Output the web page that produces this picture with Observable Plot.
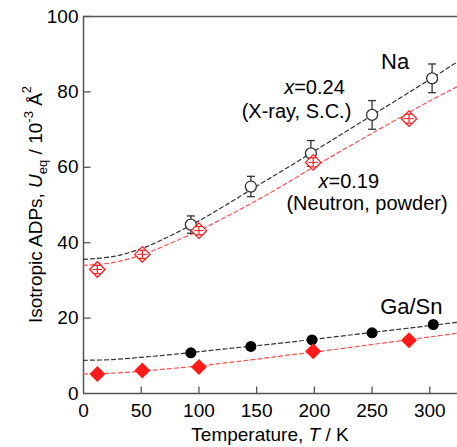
<!DOCTYPE html>
<html><head><meta charset="utf-8">
<script src="https://cdn.jsdelivr.net/npm/d3@7"></script>
<script src="https://cdn.jsdelivr.net/npm/@observablehq/plot@0.6"></script>
<style>
body{margin:0;background:#fff}
svg{font-family:"Liberation Sans",Arial,sans-serif}
</style>
</head><body><div id="chart"></div>
<script>
// Tick values
const xTicks = [0, 50, 100, 150, 200, 250, 300];
const yTicks = [0, 20, 40, 60, 80, 100];

// Na, x=0.24 (X-ray, single crystal) – open circles with error bars
const naXrayT = [93, 145, 197, 250, 302];
const naXrayU = [44.8, 54.9, 63.7, 73.9, 83.6];
const naXrayErr = [2.3, 2.7, 3.4, 3.8, 3.8];

// Na, x=0.19 (Neutron, powder) – open diamonds
const naNeutT = [12, 51, 100, 199, 282];
const naNeutU = [32.9, 36.9, 43.2, 61.3, 72.9];
const naNeutErr = [1.1, 1.1, 1.1, 1.2, 1.2];

// Ga/Sn, X-ray – filled circles
const gaXrayT = [93, 145, 198, 250, 303];
const gaXrayU = [10.8, 12.5, 14.2, 16.1, 18.3];

// Ga/Sn, Neutron – filled diamonds
const gaNeutT = [12, 51, 100, 199, 282];
const gaNeutU = [5.2, 6.1, 7.0, 11.2, 14.1];

// Fit curves
const fitT = [0, 25, 50, 75, 100, 125, 150, 175, 200, 250, 300, 324];
const naXrayFit = [35.6, 36.3, 38.4, 41.8, 45.8, 50.3, 55.0, 59.6, 64.3, 73.8, 83.3, 88.0];
const naNeutFit = [34.0, 34.7, 36.7, 39.8, 43.2, 47.1, 51.2, 55.6, 60.2, 69.0, 77.6, 81.4];
const gaXrayFit = [8.8, 9.0, 9.6, 10.3, 11.1, 11.9, 12.7, 13.5, 14.4, 16.2, 18.0, 18.9];
const gaNeutFit = [5.2, 5.4, 5.9, 6.6, 7.3, 8.2, 9.1, 10.1, 11.0, 13.0, 15.0, 16.0];

// Annotations
const annNa = {x: 270, y: 88.0, text: "Na"};
const annGa = {x: 284, y: 22.9, text: "Ga/Sn"};
const annX1 = {x: 182.5, y: 81.1, v: "=0.24"};
const annX1b = {x: 184.5, y: 74.9, text: "(X-ray, S.C.)"};
const annX2 = {x: 212.2, y: 56.2, v: "=0.19"};
const annX2b = {x: 245.6, y: 50.5, text: "(Neutron, powder)"};

const naX = naXrayT.map((t, i) => ({t, u: naXrayU[i], e: naXrayErr[i]}));
const naN = naNeutT.map((t, i) => ({t, u: naNeutU[i], e: naNeutErr[i]}));

const capSymbol = {draw(ctx, size) { const r = Math.sqrt(size / Math.PI); ctx.moveTo(-r, 0); ctx.lineTo(r, 0); }};
const tickUp = {draw(ctx, size) { const r = Math.sqrt(size / Math.PI); ctx.moveTo(0, 0); ctx.lineTo(0, -r); }};
const tickRight = {draw(ctx, size) { const r = Math.sqrt(size / Math.PI); ctx.moveTo(0, 0); ctx.lineTo(r, 0); }};

const axisCol = "#555";
const blk = "#333";
const red = "#ff1a1a";
const redLine = "#ff4d4d";
const dash = "4,3";

const chart = Plot.plot({
  width: 457, height: 447,
  marginLeft: 83, marginRight: 0, marginTop: 16, marginBottom: 54,
  x: {domain: [0, 324], label: null},
  y: {domain: [0, 100], label: null},
  style: {fontFamily: "Liberation Sans, Arial, sans-serif", fontSize: "19px", color: "#000", background: "#fff"},
  marks: [
    Plot.ruleY([0, 100], {stroke: axisCol, strokeWidth: 1.5}),
    Plot.ruleX([0], {stroke: axisCol, strokeWidth: 1.5}),
    Plot.dot(xTicks.slice(1), {x: d => d, y: 0, symbol: tickUp, r: 7, stroke: axisCol, strokeWidth: 1.3, fill: "none"}),
    Plot.dot(yTicks.slice(1), {x: 0, y: d => d, symbol: tickRight, r: 7, stroke: axisCol, strokeWidth: 1.3, fill: "none"}),
    Plot.axisX({ticks: xTicks, tickSize: 0, tickPadding: 10, label: null, fontSize: 19, tickFormat: d => String(d)}),
    Plot.axisY({ticks: yTicks, tickSize: 0, tickPadding: 5, label: null, fontSize: 19, tickFormat: d => String(d)}),

    Plot.line(fitT, {x: fitT, y: naXrayFit, stroke: blk, strokeWidth: 1.2, strokeDasharray: dash, curve: "catmull-rom"}),
    Plot.line(fitT, {x: fitT, y: naNeutFit, stroke: redLine, strokeWidth: 1.2, strokeDasharray: dash, curve: "catmull-rom"}),
    Plot.line(fitT, {x: fitT, y: gaXrayFit, stroke: blk, strokeWidth: 1.2, strokeDasharray: dash, curve: "catmull-rom"}),
    Plot.line(fitT, {x: fitT, y: gaNeutFit, stroke: redLine, strokeWidth: 1.2, strokeDasharray: dash, curve: "catmull-rom"}),

    // Na X-ray error bars + open circles
    Plot.ruleX(naX, {x: "t", y1: d => d.u - d.e, y2: d => d.u + d.e, stroke: blk, strokeWidth: 1.3}),
    Plot.dot(naX, {x: "t", y: d => d.u - d.e, symbol: capSymbol, r: 4, stroke: blk, strokeWidth: 1.3, fill: "none"}),
    Plot.dot(naX, {x: "t", y: d => d.u + d.e, symbol: capSymbol, r: 4, stroke: blk, strokeWidth: 1.3, fill: "none"}),
    Plot.dot(naX, {x: "t", y: "u", r: 5.5, stroke: blk, strokeWidth: 1.3, fill: "#fff"}),

    // Na neutron open diamonds + inner error bars
    Plot.dot(naN, {x: "t", y: "u", symbol: "diamond2", r: 7, stroke: red, strokeWidth: 1.3, fill: "#fff"}),
    Plot.ruleX(naN, {x: "t", y1: d => d.u - d.e, y2: d => d.u + d.e, stroke: red, strokeWidth: 1.2}),
    Plot.dot(naN, {x: "t", y: d => d.u - d.e, symbol: capSymbol, r: 3.5, stroke: red, strokeWidth: 1.2, fill: "none"}),
    Plot.dot(naN, {x: "t", y: d => d.u + d.e, symbol: capSymbol, r: 3.5, stroke: red, strokeWidth: 1.2, fill: "none"}),
    Plot.dot(naN, {x: "t", y: "u", symbol: capSymbol, r: 5, stroke: red, strokeWidth: 1, fill: "none"}),

    // Ga/Sn
    Plot.dot(gaXrayT, {x: gaXrayT, y: gaXrayU, r: 5.5, fill: "#000", stroke: "none"}),
    Plot.dot(gaNeutT, {x: gaNeutT, y: gaNeutU, symbol: "diamond2", r: 7.2, fill: red, stroke: "none"}),

    // Annotations
    Plot.text([annNa], {x: "x", y: "y", text: "text", fontSize: 22}),
    Plot.text([annGa], {x: "x", y: "y", text: "text", fontSize: 22}),
    Plot.text([annX1], {x: "x", y: "y", text: () => "x", fontSize: 20, fontStyle: "italic", textAnchor: "end"}),
    Plot.text([annX1], {x: "x", y: "y", text: "v", fontSize: 20, textAnchor: "start"}),
    Plot.text([annX1b], {x: "x", y: "y", text: "text", fontSize: 20}),
    Plot.text([annX2], {x: "x", y: "y", text: () => "x", fontSize: 20, fontStyle: "italic", textAnchor: "end"}),
    Plot.text([annX2], {x: "x", y: "y", text: "v", fontSize: 20, textAnchor: "start"}),
    Plot.text([annX2b], {x: "x", y: "y", text: "text", fontSize: 20})
  ]
});

document.getElementById("chart").appendChild(chart);

// Axis titles with italic symbols, sub- and superscripts
const svg = d3.select(chart);
const xr = chart.scale("x").range, yr = chart.scale("y").range;
const xMid = (xr[0] + xr[1]) / 2, yMid = (yr[0] + yr[1]) / 2;

const xt = svg.append("text").attr("x", xMid).attr("y", 441).attr("text-anchor", "middle")
  .attr("font-size", 19).attr("fill", "#000");
xt.append("tspan").text("Temperature, ");
xt.append("tspan").attr("font-style", "italic").text("T");
xt.append("tspan").text(" / K");

const yt = svg.append("text").attr("transform", `translate(42,${yMid}) rotate(-90)`)
  .attr("text-anchor", "middle").attr("font-size", 19).attr("fill", "#000");
yt.append("tspan").text("Isotropic ADPs, ");
yt.append("tspan").attr("font-style", "italic").text("U");
yt.append("tspan").attr("font-size", 13).attr("dy", 5).text("eq");
yt.append("tspan").attr("dy", -5).text(" / 10");
yt.append("tspan").attr("font-size", 13).attr("dy", -9).text("-3");
yt.append("tspan").attr("dy", 9).text(" Å");
yt.append("tspan").attr("font-size", 13).attr("dy", -11).text("2");
</script>
</body></html>
